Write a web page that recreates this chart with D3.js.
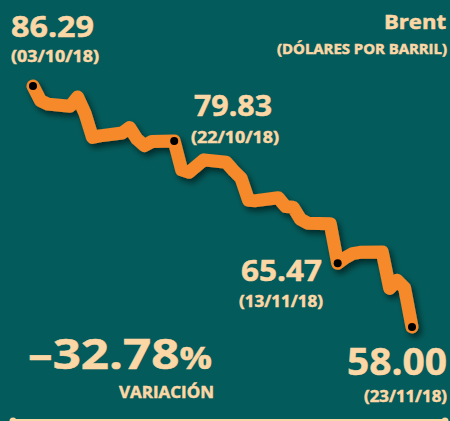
<!DOCTYPE html>
<html>
<head>
<meta charset="utf-8">
<script src="https://cdn.jsdelivr.net/npm/d3@7"></script>
<style>
  html, body { margin: 0; padding: 0; background: #045b5b; }
  svg { display: block; }
  text { font-family: "Open Sans", "Noto Sans", sans-serif; font-weight: 700; fill: #fcd7a6;
         stroke: #fcd7a6; stroke-width: 0.5px; }
</style>
</head>
<body>
<script>
// ---- data ----
const dates = ["2018-10-03","2018-10-04","2018-10-05","2018-10-08","2018-10-09","2018-10-10","2018-10-11","2018-10-12",
  "2018-10-15","2018-10-16","2018-10-17","2018-10-18","2018-10-19","2018-10-22","2018-10-23","2018-10-24","2018-10-25",
  "2018-10-26","2018-10-29","2018-10-30","2018-10-31","2018-11-01","2018-11-02","2018-11-05","2018-11-06","2018-11-07",
  "2018-11-08","2018-11-09","2018-11-12","2018-11-13","2018-11-14","2018-11-15","2018-11-16","2018-11-19","2018-11-20",
  "2018-11-21","2018-11-22","2018-11-23"];
const prices = [86.29,84.58,84.16,83.91,85.00,83.09,80.26,80.43,
  80.78,81.41,80.05,79.29,79.78,79.83,76.44,76.17,76.89,
  77.62,77.34,76.34,75.47,72.89,72.83,73.17,72.13,72.07,
  70.65,70.18,70.12,65.47,66.12,66.62,66.76,66.79,62.53,
  63.48,62.60,58.00];
const markedDates = ["2018-10-03","2018-10-22","2018-11-13","2018-11-23"];
const valueLabels = ["86.29","79.83","65.47","58.00"];
const dateLabels = ["(03/10/18)","(22/10/18)","(13/11/18)","(23/11/18)"];
const title = "Brent";
const subtitle = "(DÓLARES POR BARRIL)";
const variation = "–32.78";
const variationLabel = "VARIACIÓN";

// ---- drawing ----
const W = 450, H = 421;
const parse = d3.timeParse("%Y-%m-%d");
const data = dates.map((d, i) => ({ date: parse(d), value: prices[i] }));

const x = d3.scaleTime()
  .domain([parse("2018-10-03"), parse("2018-11-23")])
  .range([33, 412]);
const y = d3.scaleLinear()
  .domain([58, 86.29])
  .range([327, 86]);

const svg = d3.select("body").append("svg").attr("width", W).attr("height", H);
svg.append("rect").attr("width", W).attr("height", H).attr("fill", "#045b5b");

const defs = svg.append("defs");
const f = defs.append("filter").attr("id", "shadow")
  .attr("x", "-20%").attr("y", "-20%").attr("width", "140%").attr("height", "140%");
f.append("feDropShadow").attr("dx", 3).attr("dy", 4).attr("stdDeviation", 3)
  .attr("flood-color", "#000").attr("flood-opacity", 0.55);

const line = d3.line().x(d => x(d.date)).y(d => y(d.value));

svg.append("path")
  .datum(data)
  .attr("d", line)
  .attr("fill", "none")
  .attr("stroke", "#f6892a")
  .attr("stroke-width", 13)
  .attr("stroke-linejoin", "round")
  .attr("stroke-linecap", "round")
  .attr("filter", "url(#shadow)");

const marked = data.filter(d => markedDates.includes(d3.timeFormat("%Y-%m-%d")(d.date)));
svg.selectAll("circle.pt").data(marked).join("circle")
  .attr("class", "pt")
  .attr("cx", d => x(d.date)).attr("cy", d => y(d.value))
  .attr("r", 4).attr("fill", "#000");

function label(txt, xx, yy, size, len, anchor) {
  const t = svg.append("text").attr("x", xx).attr("y", yy)
    .attr("font-size", size).text(txt);
  if (anchor) t.attr("text-anchor", anchor);
  if (len) t.attr("textLength", len).attr("lengthAdjust", "spacingAndGlyphs");
  return t;
}

// value / date annotations
label(valueLabels[0], 11, 37, 28, 83);
label(dateLabels[0], 11, 62, 16, 88);
label(valueLabels[1], 194, 116, 29, 78);
label(dateLabels[1], 191, 143, 16, 88);
label(valueLabels[2], 241, 281, 29, 81);
label(dateLabels[2], 239, 307, 16, 84);
label(valueLabels[3], 347, 375, 38, 100);
label(dateLabels[3], 364, 402, 16, 83);

// title
label(title, 446, 29, 19, 62, "end");
label(subtitle, 447, 54, 14, 170, "end");

// variation
const v = svg.append("text").attr("x", 28).attr("y", 369).attr("font-size", 41)
  .attr("textLength", 184).attr("lengthAdjust", "spacingAndGlyphs");
v.append("tspan").text(variation);
v.append("tspan").attr("font-size", 30).text("%");
label(variationLabel, 119, 398, 16, 95);

// bottom rule
svg.append("line").attr("x1", 13).attr("x2", 445).attr("y1", 420).attr("y2", 420)
  .attr("stroke", "#fcd7a6").attr("stroke-width", 2);
svg.selectAll("circle.end").data([13, 445]).join("circle")
  .attr("class", "end").attr("cx", d => d).attr("cy", 421).attr("r", 3.5).attr("fill", "#fcd7a6");
</script>
</body>
</html>
